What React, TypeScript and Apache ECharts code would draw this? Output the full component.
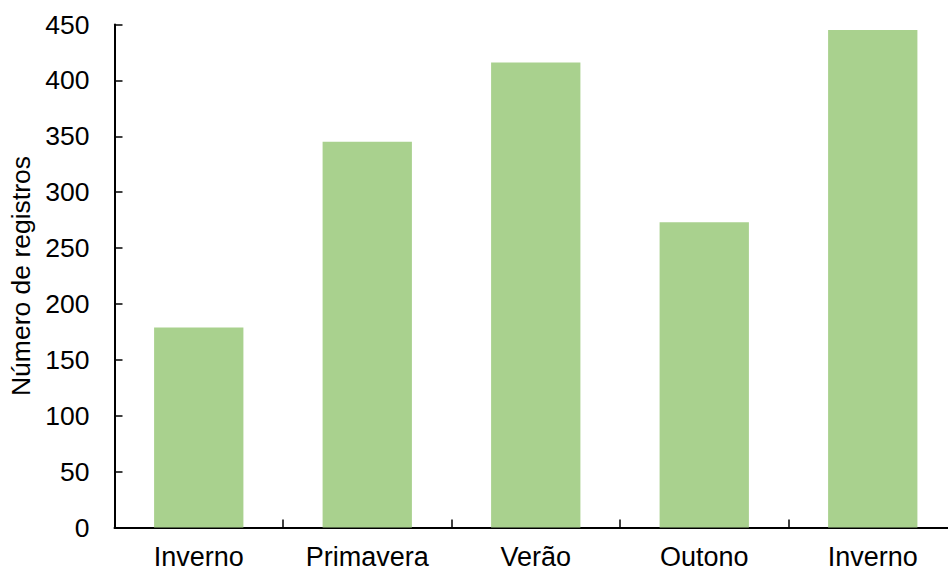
import React, { useEffect, useRef } from "react";
import * as echarts from "echarts";

const seasons = ["Inverno", "Primavera", "Verão", "Outono", "Inverno"];
const registros = [179, 345, 416, 273, 445];
const yTicks = { min: 0, max: 450, interval: 50 };

export default function App() {
  const ref = useRef<HTMLDivElement>(null);

  useEffect(() => {
    const chart = echarts.init(ref.current!, null, { renderer: "svg" });
    const font = "'Liberation Sans', Arial, sans-serif";
    chart.setOption({
      animation: false,
      backgroundColor: "#ffffff",
      grid: {
        left: 114.5,
        right: -9,
        top: 24.5,
        bottom: 44.5,
        containLabel: false,
        outerBoundsMode: "none",
      },
      xAxis: {
        type: "category",
        data: seasons,
        axisLine: { show: true, lineStyle: { color: "#000", width: 2 } },
        axisTick: { show: true, inside: true, length: 8, alignWithLabel: false, lineStyle: { color: "#000", width: 1.5 } },
        axisLabel: { color: "#000", fontFamily: font, fontSize: 27, margin: 16 },
        splitLine: { show: false },
      },
      yAxis: {
        type: "value",
        min: yTicks.min,
        max: yTicks.max,
        interval: yTicks.interval,
        name: "Número de registros",
        nameLocation: "middle",
        nameGap: 79,
        nameTextStyle: { color: "#000", fontFamily: font, fontSize: 26.5 },
        axisLine: { show: true, lineStyle: { color: "#000", width: 2 } },
        axisTick: { show: true, inside: true, length: 8, lineStyle: { color: "#000", width: 1.5 } },
        axisLabel: { color: "#000", fontFamily: font, fontSize: 26.5, margin: 25 },
        splitLine: { show: false },
      },
      series: [
        {
          type: "bar",
          data: registros,
          barWidth: "53%",
          itemStyle: { color: "#A9D18E" },
        },
      ],
    });
    return () => chart.dispose();
  }, []);

  return (
    <div
      ref={ref}
      style={{ position: "fixed", left: 0, top: 0, width: 948, height: 572 }}
    />
  );
}
